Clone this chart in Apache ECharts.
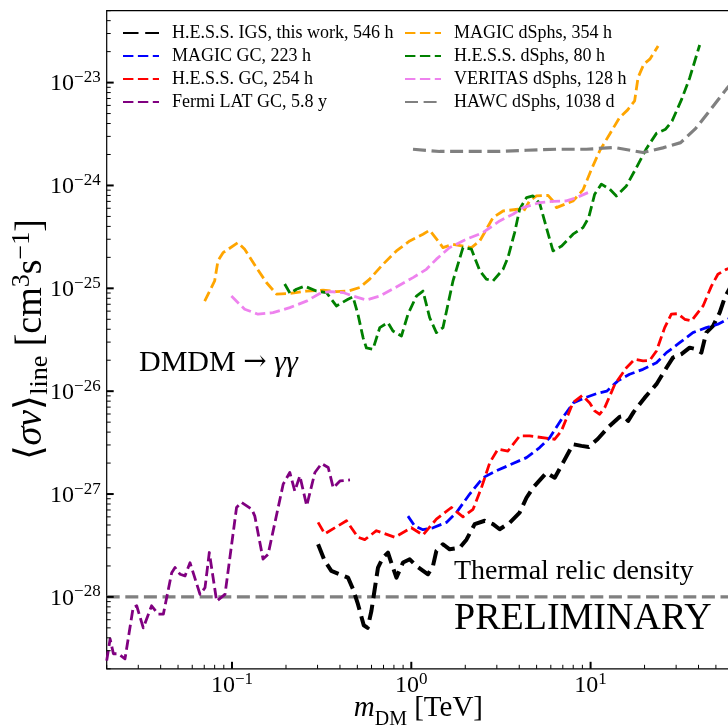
<!DOCTYPE html>
<html><head><meta charset="utf-8">
<script src="https://cdn.jsdelivr.net/npm/echarts@6/dist/echarts.min.js"></script>
<style>html,body{margin:0;padding:0;background:#fff}#c{width:728px;height:728px}</style>
</head><body><div id="c"></div>
<script>
// ---- data (mass in TeV, <sigma v> in cm^3 s^-1) ----
const massIGS = [0.302,0.329,0.358,0.399,0.4436,0.473,0.504,0.543,0.571,0.599,0.652,0.695,0.741,0.79,0.826,0.899,0.98,1.068,1.239,1.321,1.38,1.502,1.637,1.862,2.03,2.258,2.568,2.856,3.11,3.54,4.02,4.39,4.77,5.67,6.31,7.02,7.98,8.89,9.76,10.96,12.6,14.5,15.3,16.2,17.4,20.0,23.3,26.5,28.8,32.1,35.7,38.9,41.5,44.2,48.2,52.5,56.0,59.7,62];
const sigmaIGS = [3.25e-28,2.24e-28,1.79e-28,1.66e-28,1.54e-28,1.19e-28,8.5e-29,5.3e-29,5.0e-29,7.3e-29,1.93e-28,2.41e-28,2.69e-28,1.93e-28,1.54e-28,2.16e-28,2.32e-28,2.0e-28,1.66e-28,2.0e-28,2.8e-28,3.25e-28,2.9e-28,3.0e-28,3.6e-28,5.1e-28,5.5e-28,5.1e-28,4.55e-28,5.27e-28,6.6e-28,9.2e-28,1.15e-27,1.61e-27,1.44e-27,2.02e-27,3.05e-27,2.94e-27,2.87e-27,3.43e-27,4.49e-27,5.62e-27,5.75e-27,5.14e-27,6.29e-27,8.6e-27,1.17e-26,1.69e-26,2.12e-26,2.29e-26,2.65e-26,2.56e-26,2.37e-26,3.71e-26,4.31e-26,5.8e-26,8.1e-26,1.0e-25,1.1e-25];

const massMagicGC = [0.958,1.045,1.162,1.321,1.57,1.785,2.117,2.51,2.98,3.69,4.39,5.2,5.91,6.9,8.05,9.27,10.8,12.3,14.2,16.5,19.6,23.3,26.5,31.4,37.2,44.2,51.3,58.2,62];
const sigmaMagicGC = [6.1e-28,4.9e-28,4.5e-28,4.7e-28,5.3e-28,6.6e-28,1.0e-27,1.44e-27,1.68e-27,1.98e-27,2.26e-27,2.83e-27,3.53e-27,5.37e-27,7.74e-27,8.6e-27,9.46e-27,1.0e-26,1.26e-26,1.46e-26,1.63e-26,1.89e-26,2.37e-26,2.96e-26,3.71e-26,4.15e-26,4.48e-26,5.0e-26,5.3e-26];

const massHessGC = [0.302,0.329,0.435,0.504,0.55,0.639,0.808,1.0,1.162,1.38,1.674,1.942,2.21,2.46,2.74,3.04,3.46,4.02,4.57,6.31,6.87,7.98,8.98,9.89,10.54,11.24,11.99,13.6,15.84,17.62,19.6,21.36,23.3,25.9,28.2,30.7,33.5,36.5,42.4,47.2,51.3,57.2,62];
const sigmaHessGC = [5.3e-28,4.1e-28,5.5e-28,3.8e-28,3.6e-28,4.4e-28,3.8e-28,4.7e-28,4.0e-28,5.7e-28,7.4e-28,6.0e-28,7.1e-28,1.15e-27,2.02e-27,2.73e-27,2.62e-27,3.67e-27,3.67e-27,3.41e-27,4.1e-27,7.74e-27,9.09e-27,7.69e-27,6.43e-27,5.97e-27,6.92e-27,1.15e-26,1.69e-26,2.04e-26,1.97e-26,1.99e-26,2.46e-26,4.15e-26,5.6e-26,5.67e-26,5.0e-26,4.82e-26,6.74e-26,1.05e-25,1.37e-25,1.53e-25,1.6e-25];

const massFermi = [0.02,0.0209,0.0218,0.0232,0.0253,0.0281,0.0294,0.032,0.0356,0.0388,0.0414,0.0461,0.0481,0.0513,0.0547,0.0583,0.0663,0.0707,0.0747,0.0821,0.0914,0.106,0.113,0.129,0.134,0.149,0.159,0.193,0.210,0.224,0.239,0.261,0.290,0.316,0.344,0.367,0.400,0.455];
const sigmaFermi = [2.4e-29,3.9e-29,2.8e-29,2.8e-29,2.5e-29,7.9e-29,8.2e-29,5.0e-29,8.2e-29,6.8e-29,6.8e-29,1.72e-28,1.93e-28,1.66e-28,1.6e-28,2.15e-28,1.06e-28,1.23e-28,2.7e-28,9.1e-29,1.06e-28,7.4e-28,8.3e-28,7.1e-28,6.1e-28,2.33e-28,2.6e-28,1.25e-27,1.62e-27,1.07e-27,1.5e-27,7.7e-28,1.62e-27,1.98e-27,1.81e-27,1.15e-27,1.34e-27,1.37e-27];

const massMagicDS = [0.0704,0.080,0.0835,0.0891,0.108,0.1177,0.1368,0.1555,0.177,0.21,0.26,0.322,0.382,0.4436,0.516,0.586,0.695,0.826,0.98,1.162,1.266,1.41,1.502,1.708,2.165,2.41,2.856,3.25,3.94,4.24,4.57,4.99,5.79,6.17,6.45,7.98,9.07,10.14,11.24,12.8,14.5,16.1,17.6,18.4,19.8,21.4,23.8];
const sigmaMagicDS = [7.5e-26,1.18e-25,1.85e-25,2.22e-25,2.78e-25,2.4e-25,1.59e-25,1.14e-25,8.8e-26,8.9e-26,9.4e-26,9.6e-26,9.3e-26,9.4e-26,1.02e-25,1.23e-25,1.71e-25,2.31e-25,2.89e-25,3.36e-25,3.67e-25,2.89e-25,2.49e-25,2.68e-25,2.49e-25,2.89e-25,4.87e-25,5.65e-25,5.87e-25,5.65e-25,7.07e-25,7.91e-25,8.0e-25,7.07e-25,6.09e-25,7.07e-25,9.05e-25,1.45e-24,2.17e-24,3.17e-24,4.57e-24,5.43e-24,6.63e-24,1.12e-23,1.51e-23,1.69e-23,2.27e-23];

const massHessDS = [0.1967,0.211,0.2287,0.254,0.2955,0.336,0.382,0.4436,0.473,0.504,0.538,0.562,0.6115,0.667,0.741,0.79,0.881,0.958,1.068,1.162,1.266,1.38,1.502,1.708,1.942,2.165,2.41,2.62,2.856,3.25,3.46,3.77,4.02,4.39,4.77,5.2,5.67,6.17,6.9,7.98,9.07,9.76,10.54,11.49,12.8,13.93,15.84,18.0,20.5,23.3,26.2,28.5,32.1,35.7,40.6];
const sigmaHessDS = [1.10e-25,8.9e-26,9.8e-26,1.05e-25,9.4e-26,9.1e-26,6.74e-26,7.83e-26,8.25e-26,5.6e-26,3.32e-26,2.63e-26,2.56e-26,4.15e-26,4.64e-26,3.85e-26,3.44e-26,5.6e-26,8.4e-26,9.4e-26,5.19e-26,3.71e-26,4.15e-26,1.18e-25,2.49e-25,2.4e-25,1.48e-25,1.23e-25,1.18e-25,1.53e-25,1.99e-25,3.48e-25,5.87e-25,7.62e-25,7.91e-25,6.69e-25,3.89e-25,2.31e-25,2.58e-25,3.36e-25,3.89e-25,4.87e-25,8.22e-25,1.03e-24,9.19e-25,7.91e-25,9.9e-25,1.49e-24,2.29e-24,3.21e-24,3.52e-24,4.24e-24,6.79e-24,1.11e-23,2.32e-23];

const massVeritas = [0.0992,0.1177,0.1396,0.1693,0.21,0.26,0.3085,0.3506,0.416,0.473,0.562,0.667,0.826,1.022,1.214,1.38,1.637,2.03,2.51,3.11,3.69,4.20,5.2,6.17,7.33,8.33,9.67];
const sigmaVeritas = [8.4e-26,6.26e-26,5.6e-26,5.8e-26,6.49e-26,7.5e-26,8.9e-26,9.3e-26,9.1e-26,8.4e-26,7.71e-26,8.4e-26,1.03e-25,1.27e-25,1.53e-25,1.92e-25,2.49e-25,3.0e-25,3.48e-25,4.52e-25,5.25e-25,6.09e-25,6.81e-25,7.0e-25,7.07e-25,7.62e-25,8.52e-25];

const massHawc = [1.022,1.44,2.03,2.98,4.39,6.45,9.48,13.6,19.6,25.3,31.8,38.6,46.8,57.2,67.9];
const sigmaHawc = [2.25e-24,2.14e-24,2.14e-24,2.14e-24,2.2e-24,2.25e-24,2.25e-24,2.34e-24,2.09e-24,2.32e-24,2.61e-24,3.59e-24,5.5e-24,8.64e-24,1.24e-23];

const thermalMass = [0.02, 60];
const thermalSigma = [1e-28, 1e-28];

const seriesNames = ['H.E.S.S. IGS, this work, 546 h','MAGIC GC, 223 h','H.E.S.S. GC, 254 h','Fermi LAT GC, 5.8 y',
  'MAGIC dSphs, 354 h','H.E.S.S. dSphs, 80 h','VERITAS dSphs, 128 h','HAWC dSphs, 1038 d'];
const seriesColors = ['#000000','#0000ff','#ff0000','#800080','#ffa500','#008000','#ee82ee','#808080'];

const xMin = 0.02, xMax = 60, yMin = 2e-29, yMax = 5e-23;
const xMajorTicks = [0.1, 1, 10];
const yMajorTicks = [1e-28, 1e-27, 1e-26, 1e-25, 1e-24, 1e-23];
const xMinorTicks = [], yMinorTicks = [];
for (let e = -2; e <= 1; e++) for (let k = 2; k <= 9; k++) {
  const v = Number((k * Math.pow(10, e)).toPrecision(3)); if (v >= xMin && v <= xMax) xMinorTicks.push(v);
}
for (let e = -29; e <= -23; e++) for (let k = 2; k <= 9; k++) {
  const v = Number((k * Math.pow(10, e)).toPrecision(3)); if (v >= yMin && v <= yMax) yMinorTicks.push(v);
}

const F = 'Liberation Serif';
const zip = (a, b) => a.map((v, i) => [v, b[i]]);

function powLabel(v) {
  const e = Math.log10(v), n = Math.round(e);
  if (Math.abs(e - n) > 1e-6) return '';
  return '{b|10}{s|' + (n < 0 ? '\u2212' : '') + Math.abs(n) + '}';
}
const labelRich = {
  b: { fontFamily: F, fontSize: 24, lineHeight: 27, verticalAlign: 'bottom', color: '#000' },
  s: { fontFamily: F, fontSize: 17, lineHeight: 17, verticalAlign: 'top', color: '#000' }
};

function lineSeries(name, m, s, color, width, dash, z) {
  return { name, type: 'line', data: zip(m, s), showSymbol: false, symbol: 'none', z: z || 2,
    lineStyle: { color, width, type: dash, cap: 'butt', join: 'round' }, itemStyle: { color },
    emphasis: { disabled: true }, animation: false, clip: true };
}
const dashC = [10.4, 4.5], dashK = [15.5, 6.7], dashG = [13, 5.6];

function tickSeries(vals, isX) {
  return { type: 'custom', coordinateSystem: 'cartesian2d', silent: true, clip: false, z: 20, animation: false,
    data: vals.map(v => isX ? [v, yMin] : [xMin, v]),
    renderItem: function (params, api) {
      const p = api.coord([api.value(0), api.value(1)]);
      const v = isX ? api.value(0) : api.value(1);
      const e = Math.log10(v), major = Math.abs(e - Math.round(e)) < 1e-6;
      const len = major ? 7 : 4;
      const shape = isX ? { x1: p[0], y1: p[1], x2: p[0], y2: p[1] - len } : { x1: p[0], y1: p[1], x2: p[0] + len, y2: p[1] };
      return { type: 'line', shape, style: { stroke: '#000', lineWidth: major ? 2 : 1 } };
    } };
}

const chart = echarts.init(document.getElementById('c'), null, { renderer: 'canvas' });
const legendText = { fontFamily: F, fontSize: 18, color: '#000', padding: [0, 0, 0, 8] };
const legendCommon = { orient: 'vertical', itemWidth: 36, itemHeight: 18, itemGap: 5, padding: 0, selectedMode: false,
  textStyle: legendText, itemStyle: { opacity: 0, borderWidth: 0 } };
chart.setOption({
  animation: false,
  backgroundColor: '#fff',
  grid: { left: 106.7, top: 10.7, width: 623.4, height: 658.1, show: true, borderColor: '#000', borderWidth: 1.2,
    backgroundColor: 'transparent', containLabel: false, outerBoundsMode: 'none' },
  xAxis: { type: 'log', logBase: 10, min: xMin, max: xMax,
    axisLine: { show: false }, axisTick: { show: false }, splitLine: { show: false }, minorTick: { show: false },
    axisLabel: { formatter: powLabel, margin: 2, rich: labelRich, showMinLabel: false, showMaxLabel: false },
    name: '{i|m}{sub|DM}{r| [TeV]}', nameLocation: 'middle', nameGap: 25, nameMoveOverlap: false,
    nameTextStyle: { rich: {
      i: { fontFamily: F, fontStyle: 'italic', fontSize: 29, lineHeight: 36, verticalAlign: 'top', color: '#000' },
      sub: { fontFamily: F, fontSize: 20, lineHeight: 20, verticalAlign: 'bottom', color: '#000' },
      r: { fontFamily: F, fontSize: 29, lineHeight: 36, verticalAlign: 'top', color: '#000' } } } },
  yAxis: { type: 'log', logBase: 10, min: yMin, max: yMax,
    axisLine: { show: false }, axisTick: { show: false }, splitLine: { show: false }, minorTick: { show: false },
    axisLabel: { formatter: powLabel, margin: 6, rich: labelRich, showMinLabel: false, showMaxLabel: false },
    name: '{t|\u27E8}{i|\u03C3v}{t|\u27E9}{sub|line}{t| [cm}{sup|3}{t|s}{sup|\u22121}{t|]}',
    nameLocation: 'middle', nameRotate: 90, nameGap: 54, nameMoveOverlap: false,
    nameTextStyle: { rich: {
      t: { fontFamily: F, fontSize: 38, lineHeight: 44, verticalAlign: 'middle', color: '#000' },
      i: { fontFamily: F, fontStyle: 'italic', fontSize: 38, lineHeight: 44, verticalAlign: 'middle', color: '#000' },
      sub: { fontFamily: F, fontSize: 26, lineHeight: 26, verticalAlign: 'bottom', color: '#000' },
      sup: { fontFamily: F, fontSize: 26, lineHeight: 26, verticalAlign: 'top', color: '#000' } } } },
  legend: [
    Object.assign({ data: seriesNames.slice(0, 4), left: 122, top: 24 }, legendCommon),
    Object.assign({ data: seriesNames.slice(4), left: 404, top: 24 }, legendCommon)
  ],
  graphic: [
    { type: 'text', left: 139, top: 348, z: 50, style: { text: '{r|DMDM }{a|\u2192}{r| }{i|\u03B3\u03B3}', rich: {
        r: { fontFamily: F, fontSize: 30, fill: '#000' },
        a: { fontFamily: 'DejaVu Serif', fontSize: 28, fill: '#000' },
        i: { fontFamily: F, fontStyle: 'italic', fontSize: 30, fill: '#000' } } } },
    { type: 'text', left: 454, top: 558, z: 50, style: { text: 'Thermal relic density', font: '28px "Liberation Serif"', fill: '#000' } },
    { type: 'text', left: 454, top: 600, z: 50, style: { text: 'PRELIMINARY', font: '38px "Liberation Serif"', fill: '#000' } }
  ],
  series: [
    lineSeries('Thermal', thermalMass, thermalSigma, '#808080', 3.2, dashG, 1),
    lineSeries(seriesNames[0], massIGS, sigmaIGS, seriesColors[0], 4, dashK),
    lineSeries(seriesNames[1], massMagicGC, sigmaMagicGC, seriesColors[1], 2.8, dashC),
    lineSeries(seriesNames[2], massHessGC, sigmaHessGC, seriesColors[2], 2.8, dashC),
    lineSeries(seriesNames[3], massFermi, sigmaFermi, seriesColors[3], 2.8, dashC),
    lineSeries(seriesNames[4], massMagicDS, sigmaMagicDS, seriesColors[4], 2.8, dashC),
    lineSeries(seriesNames[5], massHessDS, sigmaHessDS, seriesColors[5], 2.8, dashC),
    lineSeries(seriesNames[6], massVeritas, sigmaVeritas, seriesColors[6], 2.8, dashC),
    lineSeries(seriesNames[7], massHawc, sigmaHawc, seriesColors[7], 3.2, dashG),
    tickSeries(xMajorTicks.concat(xMinorTicks), true),
    tickSeries(yMajorTicks.concat(yMinorTicks), false)
  ]
});
</script></body></html>
